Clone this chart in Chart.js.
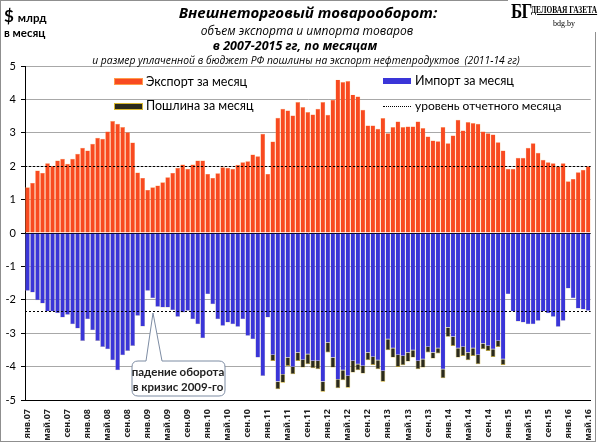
<!DOCTYPE html>
<html><head><meta charset="utf-8">
<script src="https://cdn.jsdelivr.net/npm/chart.js@4.4.1/dist/chart.umd.min.js"></script>
<style>
body{margin:0;background:#fff;}
#wrap{position:relative;width:600px;height:444px;overflow:hidden;font-family:Lato,"Noto Sans",sans-serif;color:#000;}
canvas{position:absolute;left:0;top:0;}
.t{position:absolute;white-space:nowrap;line-height:1;}
.c{transform:translate(-50%,-50%);}
.v{transform:translateY(-50%);}
.os{font-family:"Open Sans","Noto Sans",sans-serif;}
#frame{position:absolute;left:0;top:0;width:594px;height:440px;border:1px solid #8f8f8f;pointer-events:none;}
.box{position:absolute;box-sizing:border-box;}
</style></head><body>
<div id="wrap">
<canvas id="c" width="600" height="444"></canvas>
<div id="frame"></div>

<div class="t" style="left:4px;top:7px;font-weight:bold;"><span style="font-size:17px;">$</span> <span style="font-size:11.5px;">млрд</span></div>
<div class="t" style="left:4px;top:27px;font-weight:bold;font-size:11.5px;">в месяц</div>

<div class="t c os" style="left:308px;top:12px;font-size:15px;font-weight:bold;font-style:italic;">Внешнеторговый товарооборот:</div>
<div class="t c os" style="left:307px;top:31px;font-size:12px;font-style:italic;">объем экспорта и импорта товаров</div>
<div class="t c os" style="left:295px;top:46px;font-size:12.5px;font-weight:bold;font-style:italic;">в 2007-2015 гг, по месяцам</div>
<div class="t c os" style="left:306px;top:60px;font-size:10.3px;font-style:italic;">и размер уплаченной в бюджет РФ пошлины на экспорт нефтепродуктов&nbsp; (2011-14 гг)</div>

<div style="position:absolute;left:508px;top:0;width:92px;height:32px;background:#fff;"></div>
<div class="t" style="left:511px;top:1px;font-family:'Liberation Serif',serif;font-weight:bold;font-size:20px;letter-spacing:-1px;transform:scaleX(0.85);transform-origin:left top;">БГ</div>
<div class="t" style="left:531px;top:6px;font-family:'Liberation Serif',serif;font-weight:bold;font-size:9.5px;text-decoration:underline;transform:scaleX(0.78);transform-origin:left top;">ДЕЛОВАЯ ГАЗЕТА</div>
<div class="t" style="left:553px;top:20px;font-family:'Liberation Serif',serif;font-size:8px;">bdg.by</div>

<div class="box" style="left:114px;top:78px;width:29px;height:7px;background:#f84a20;border:1px solid #ff9a4a;"></div>
<div class="t v" style="left:146px;top:82px;font-size:12.5px;">Экспорт за месяц</div>
<div class="box" style="left:114px;top:103px;width:29px;height:7px;background:#2b2a1c;border:1px solid #d8b830;"></div>
<div class="t v" style="left:146px;top:106px;font-size:12.5px;">Пошлина за месяц</div>
<div class="box" style="left:383px;top:78px;width:28px;height:6px;background:#3a35d8;"></div>
<div class="t v" style="left:415px;top:81px;font-size:12.5px;">Импорт за месяц</div>
<div class="box" style="left:383px;top:106px;width:28px;height:0;border-top:1px dotted #000;"></div>
<div class="t v" style="left:415px;top:106px;font-size:12px;">уровень отчетного месяца</div>

<svg style="position:absolute;left:0;top:0;" width="600" height="444">
<path d="M138,361 L146,361 L153,313 L162,361 L219,361 Q225,361 225,367 L225,390 Q225,396 219,396 L138,396 Q132,396 132,390 L132,367 Q132,361 138,361 Z" fill="#fff" stroke="#7d8ca3" stroke-width="1"/>
</svg>
<div class="t c" style="left:178px;top:372px;font-size:11.5px;font-weight:bold;color:#222;">падение оборота</div>
<div class="t c" style="left:178px;top:387px;font-size:11.5px;font-weight:bold;color:#222;">в кризис 2009-го</div>
</div>
<script>
const monthNames = ['янв','фев','мар','апр','май','июн','июл','авг','сен','окт','ноя','дек'];
const years = ['07','08','09','10','11','12','13','14','15','16'];
const lastYearMonths = 5;

const exportValues = [
  1.37,1.50,1.87,1.80,2.09,2.01,2.17,2.22,2.07,2.22,2.37,2.55,
  2.47,2.67,2.85,2.82,3.04,3.35,3.27,3.17,3.02,2.71,1.81,1.65,
  1.29,1.37,1.42,1.52,1.67,1.80,1.95,2.05,1.92,2.05,2.17,2.17,
  1.77,1.65,1.79,1.97,1.95,1.92,2.04,2.12,2.15,2.35,2.30,2.97,
  1.77,2.74,3.45,3.72,3.67,3.52,3.92,3.77,3.62,3.55,3.72,3.92,
  3.54,3.99,4.59,4.52,4.55,4.14,4.09,3.69,3.22,3.22,3.12,3.44,
  2.99,3.17,3.34,3.17,3.19,3.19,3.34,3.14,2.89,2.77,2.75,3.17,
  2.69,2.92,3.39,3.07,3.32,3.29,3.27,3.04,2.99,2.95,2.72,2.47,
  1.92,1.92,2.25,2.25,2.55,2.69,2.40,2.19,2.12,2.09,1.99,2.09,
  1.55,1.62,1.82,1.89,2.00
];
const importValues = [
  -1.73,-1.78,-2.01,-2.11,-2.35,-2.35,-2.40,-2.53,-2.45,-2.73,-2.86,-3.23,
  -2.58,-2.91,-3.23,-3.41,-3.48,-3.81,-4.11,-3.66,-3.53,-3.38,-2.48,-2.80,
  -1.73,-1.95,-2.21,-2.23,-2.23,-2.31,-2.51,-2.38,-2.33,-2.58,-2.73,-3.15,
  -1.83,-2.13,-2.58,-2.78,-2.68,-2.73,-2.81,-2.58,-3.08,-3.18,-3.73,-4.28,
  -2.53,-3.65,-4.45,-4.23,-3.73,-4.01,-3.58,-3.80,-3.63,-3.83,-3.83,-4.45,
  -3.28,-3.73,-4.38,-4.11,-4.28,-3.83,-3.93,-3.98,-3.58,-3.71,-3.81,-4.13,
  -3.18,-3.45,-3.65,-3.68,-3.58,-3.51,-3.83,-3.78,-3.41,-3.58,-3.45,-4.08,
  -2.83,-3.11,-3.45,-3.41,-3.58,-3.45,-3.65,-3.31,-3.38,-3.48,-3.23,-3.78,
  -1.83,-2.35,-2.65,-2.68,-2.73,-2.73,-2.63,-2.35,-2.40,-2.51,-2.81,-2.63,
  -1.66,-1.95,-2.26,-2.29,-2.33
];
const dutyValues = [
  null,null,null,null,null,null,null,null,null,null,null,null,
  null,null,null,null,null,null,null,null,null,null,null,null,
  null,null,null,null,null,null,null,null,null,null,null,null,
  null,null,null,null,null,null,null,null,null,null,null,null,
  null,0.18,0.23,0.25,0.25,0.22,0.25,0.23,0.30,0.22,0.25,0.30,
  0.30,0.30,0.27,0.30,0.35,0.35,0.18,0.23,0.23,0.24,0.27,0.32,
  0.33,0.28,0.36,0.28,0.27,0.22,0.25,0.25,0.17,0.18,0.16,0.27,
  0.28,0.27,0.28,0.27,0.23,0.23,0.28,0.17,0.15,0.23,0.18,0.17,
  null,null,null,null,null,null,null,null,null,null,null,null,
  null,null,null,null,null
];
const yTicks = [-5,-4,-3,-2,-1,0,1,2,3,4,5];

const categories = [];
years.forEach((yy, yi) => {
  const n = yi === years.length - 1 ? lastYearMonths : 12;
  for (let m = 0; m < n; m++) categories.push(monthNames[m] + '.' + yy);
});
const reportLevels = [exportValues[exportValues.length - 1], importValues[importValues.length - 1]];

const levelPlugin = {
  id: 'levels',
  afterDatasetsDraw(chart) {
    const {ctx, chartArea: a, scales: {y}} = chart;
    ctx.save();
    ctx.strokeStyle = '#000';
    ctx.lineWidth = 1;
    ctx.setLineDash([2, 2]);
    reportLevels.forEach(v => {
      const py = Math.round(y.getPixelForValue(v)) + 0.5;
      ctx.beginPath(); ctx.moveTo(a.left, py); ctx.lineTo(a.right, py); ctx.stroke();
    });
    ctx.restore();
  }
};

Chart.defaults.font.family = 'Lato, "Noto Sans", sans-serif';
new Chart(document.getElementById('c'), {
  type: 'bar',
  data: {
    labels: categories,
    datasets: [
      {label: 'Экспорт за месяц', data: exportValues, backgroundColor: '#f84a20', borderColor: '#f9a050', borderWidth: 0.4, stack: 's'},
      {label: 'Импорт за месяц', data: importValues, backgroundColor: '#3a35d8', borderColor: '#b8b0a0', borderWidth: 0.4, stack: 's'},
      {label: 'Пошлина за месяц', data: dutyValues.map(v => v == null ? null : -v), backgroundColor: '#2b2a1c', borderColor: '#c8a820', borderWidth: 0.7, stack: 's'}
    ]
  },
  options: {
    responsive: false,
    animation: false,
    layout: {padding: {left: 0, right: 8, top: 66, bottom: 0}},
    plugins: {legend: {display: false}, tooltip: {enabled: false}, title: {display: false}},
    datasets: {bar: {barPercentage: 1, categoryPercentage: 0.94}},
    scales: {
      x: {
        stacked: true,
        grid: {display: false},
        border: {color: '#000'},
        ticks: {autoSkip: false, maxRotation: 90, minRotation: 90, padding: 1, color: '#222',
          font: {family: '"Noto Sans", sans-serif', weight: 'bold', size: 9},
          callback: (v, i) => (i % 4 === 0 ? categories[i] : '')},
        afterFit: s => { s.height = 44; }
      },
      y: {
        stacked: true, min: -5, max: 5,
        afterBuildTicks: s => { s.ticks = yTicks.map(v => ({value: v})); },
        ticks: {color: '#000', padding: 5, font: {size: 11}},
        grid: {color: c => (c.tick && c.tick.value === 0 ? '#000' : '#a8a8a8'), tickColor: '#000', tickLength: 4, lineWidth: 1},
        border: {color: '#000'},
        afterFit: s => { s.width = 25; }
      }
    }
  },
  plugins: [levelPlugin]
});
</script>
</body></html>
